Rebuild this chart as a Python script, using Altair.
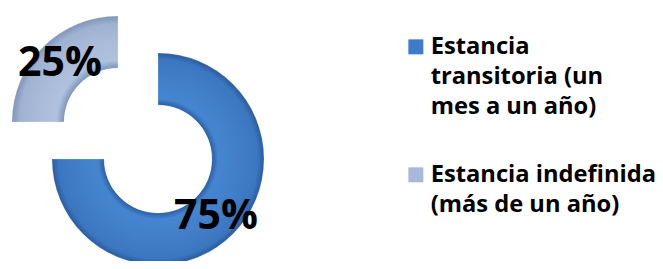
import altair as alt
import pandas as pd

categories = ["Estancia transitoria (un mes a un año)", "Estancia indefinida (más de un año)"]
legend_lines = [["Estancia", "transitoria (un", "mes a un año)"], ["Estancia indefinida", "(más de un año)"]]
values = [75, 25]
pct_labels = ["75%", "25%"]
order = [0, 1]
colors = ["#3F7BC8", "#A6B9D8"]

df = pd.DataFrame({"cat": categories, "value": values, "label": pct_labels, "order": order})

blue_grad = {
    "gradient": "radial", "x1": 0.5, "y1": 0.5, "r1": 0.255, "x2": 0.5, "y2": 0.5, "r2": 0.5,
    "stops": [
        {"offset": 0.0, "color": "#2B5FA6"},
        {"offset": 0.12, "color": "#4585D0"},
        {"offset": 0.5, "color": "#437FC9"},
        {"offset": 0.88, "color": "#3B76C0"},
        {"offset": 1.0, "color": "#2A5B9C"},
    ],
}
grey_grad = {
    "gradient": "radial", "x1": 1, "y1": 1, "r1": 0.51, "x2": 1, "y2": 1, "r2": 1.0,
    "stops": [
        {"offset": 0.0, "color": "#8096BA"},
        {"offset": 0.15, "color": "#AFC1DC"},
        {"offset": 0.5, "color": "#A9BBD8"},
        {"offset": 0.85, "color": "#9FB2D2"},
        {"offset": 1.0, "color": "#7F95B8"},
    ],
}

parts = []
for c, lines in zip(categories, legend_lines):
    arr = "[" + ",".join("'" + l + "'" for l in lines) + "]"
    parts.append("datum.label == '" + c + "' ? " + arr)
label_expr = " : ".join(parts) + " : datum.label"

base = alt.Chart(df).transform_window(
    end="sum(value)", sort=[alt.SortField("order")], frame=[None, 0]
).transform_calculate(
    start="datum.end - datum.value", mid="datum.end - datum.value / 2"
)

theta_scale = alt.Scale(domain=[0, 100])

centers = {0: (150, 151), 1: (110, 114)}
grads = {0: blue_grad, 1: grey_grad}

layers = []
for o in order:
    cx, cy = centers[o]
    sub = base.transform_filter(alt.datum.order == o)
    layers.append(
        sub.mark_arc(x=cx, y=cy, outerRadius=106, innerRadius=54, fill=grads[o],
                     stroke="#FFFFFF", strokeWidth=0.5, strokeOpacity=0.4).encode(
            theta=alt.Theta("start:Q", scale=theta_scale),
            theta2="end:Q",
        )
    )
for o in order:
    cx, cy = centers[o]
    sub = base.transform_filter(alt.datum.order == o)
    layers.append(
        sub.mark_text(x=cx, y=cy, font="Open Sans", fontSize=41, fontWeight="bold",
                      color="#000000", align="center", baseline="middle").encode(
            theta=alt.Theta("mid:Q", scale=theta_scale),
            radius=alt.value(82),
            text="label:N",
        )
    )

legend_layer = base.mark_point(shape="square", filled=True, opacity=0, x=150, y=151).encode(
    color=alt.Color(
        "cat:N",
        scale=alt.Scale(domain=categories, range=colors),
        legend=alt.Legend(
            title=None, orient="none", legendX=396, legendY=27,
            symbolType="square", symbolSize=225, symbolOpacity=1, symbolStrokeWidth=0,
            labelFont="Open Sans", labelFontSize=23.7, labelFontWeight="bold", labelColor="#000000",
            labelLimit=400, labelOffset=3, labelBaseline="middle", rowPadding=43,
            labelExpr=label_expr,
        ),
    )
)
layers.append(legend_layer)

chart = alt.layer(*layers).properties(
    width=647, height=253, padding=0, autosize=alt.AutoSizeParams(type="none"),
    background="#FFFFFF",
).configure(style={"guide-label": {"lineHeight": 30}}).configure_view(stroke=None)

chart.save("out.html", embed_options={"renderer": "svg", "actions": False})
